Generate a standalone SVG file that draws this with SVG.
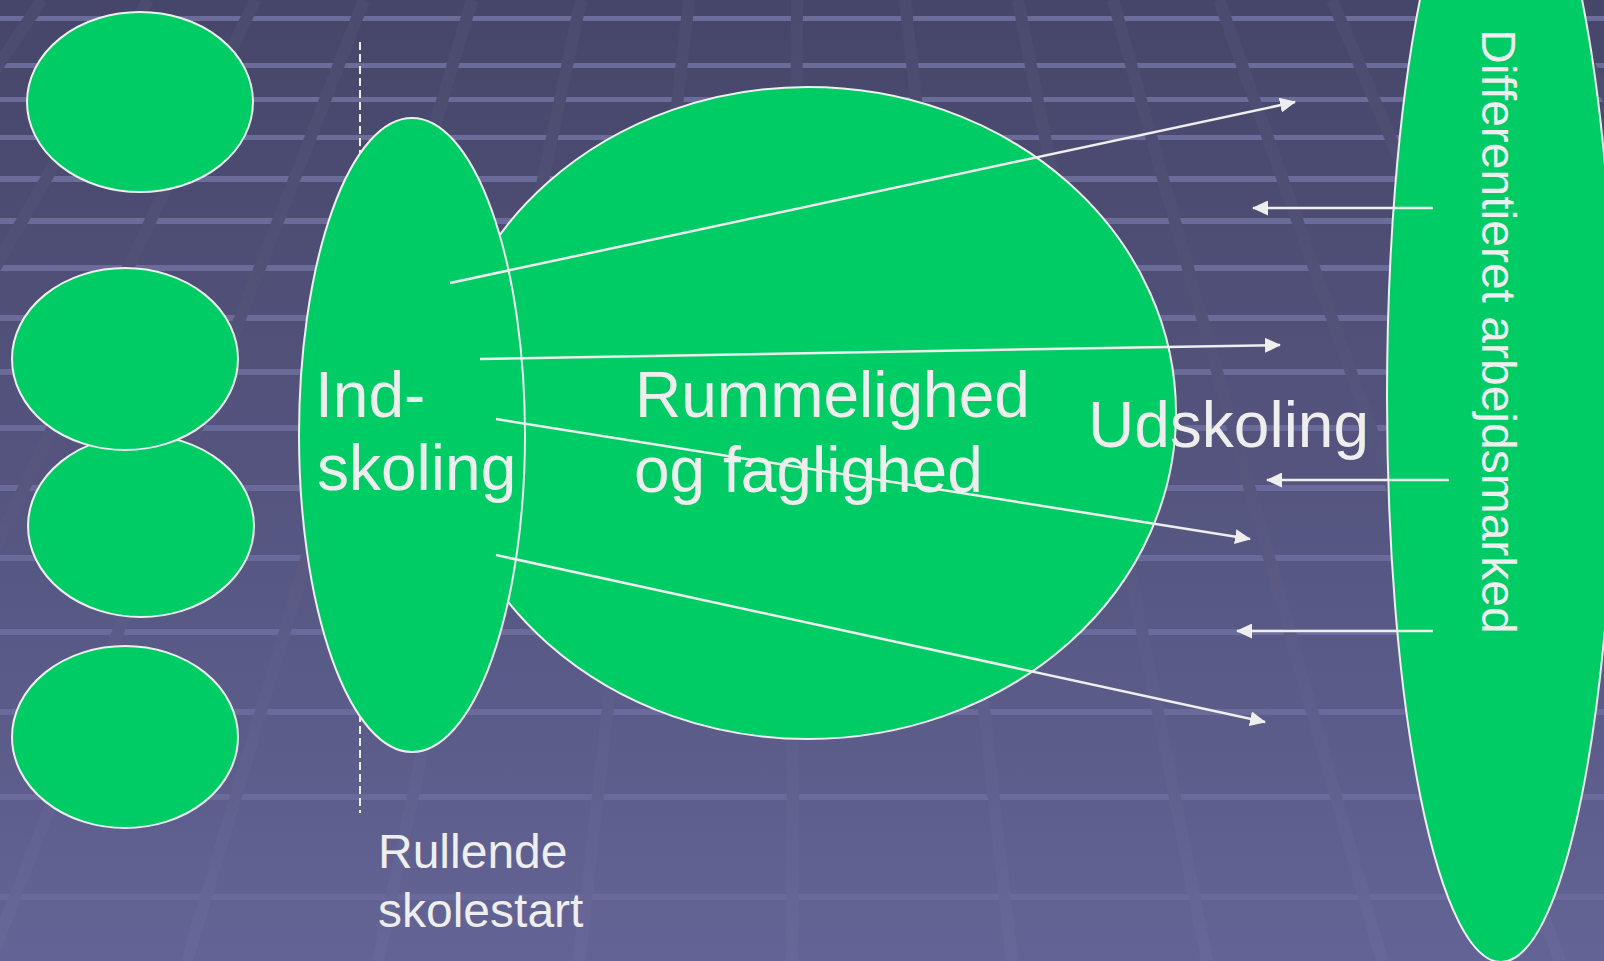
<svg xmlns="http://www.w3.org/2000/svg" width="1604" height="961" viewBox="0 0 1604 961">
<defs>
<linearGradient id="bg" x1="0" y1="0" x2="0" y2="961" gradientUnits="userSpaceOnUse"><stop offset="0" stop-color="#46466a"/><stop offset="1" stop-color="#636395"/></linearGradient>
<linearGradient id="ln" x1="0" y1="0" x2="0" y2="961" gradientUnits="userSpaceOnUse"><stop offset="0" stop-color="#4b4b6f"/><stop offset="0.5" stop-color="#56567f"/><stop offset="1" stop-color="#676799"/></linearGradient>
<linearGradient id="st" x1="0" y1="0" x2="0" y2="961" gradientUnits="userSpaceOnUse"><stop offset="0" stop-color="#6c6c9a"/><stop offset="1" stop-color="#69699b"/></linearGradient>
<marker id="ah" viewBox="0 0 16 15" markerWidth="16" markerHeight="15" refX="15" refY="7.5" orient="auto" markerUnits="userSpaceOnUse"><path d="M0,0 L16,7.5 L0,15 z" fill="#eeeeee"/></marker>
</defs>
<style>
.node{fill:#00cc66;stroke:#eeeeee;stroke-width:2}
.lbl{font-family:"Liberation Sans",Arial,sans-serif;fill:#eeeeee}
.conn{stroke:#eeeeee;stroke-width:2.5;fill:none;marker-end:url(#ah)}
.stripe{fill:url(#st)}
.grid{stroke:url(#ln);stroke-width:12;fill:none}
</style>
<g id="background">
<rect x="0" y="0" width="1604" height="961" fill="url(#bg)"/>
<g>
<rect class="stripe" x="0" y="16" width="1604" height="5"/>
<rect class="stripe" x="0" y="63" width="1604" height="5"/>
<rect class="stripe" x="0" y="97" width="1604" height="5"/>
<rect class="stripe" x="0" y="135" width="1604" height="5"/>
<rect class="stripe" x="0" y="176" width="1604" height="6"/>
<rect class="stripe" x="0" y="218" width="1604" height="6"/>
<rect class="stripe" x="0" y="265" width="1604" height="6"/>
<rect class="stripe" x="0" y="315" width="1604" height="6"/>
<rect class="stripe" x="0" y="369" width="1604" height="6"/>
<rect class="stripe" x="0" y="425" width="1604" height="6"/>
<rect class="stripe" x="0" y="485" width="1604" height="6"/>
<rect class="stripe" x="0" y="555" width="1604" height="6"/>
<rect class="stripe" x="0" y="629" width="1604" height="6"/>
<rect class="stripe" x="0" y="709" width="1604" height="6"/>
<rect class="stripe" x="0" y="794" width="1604" height="6"/>
<rect class="stripe" x="0" y="894" width="1604" height="6"/>
</g>
<g class="grid">
<line x1="42" y1="0" x2="-600" y2="961"/>
<line x1="148" y1="0" x2="-400" y2="961"/>
<line x1="255" y1="0" x2="-200" y2="961"/>
<line x1="364" y1="0" x2="-10" y2="961"/>
<line x1="472" y1="0" x2="187" y2="961"/>
<line x1="581" y1="0" x2="378" y2="961"/>
<line x1="689" y1="0" x2="579" y2="961"/>
<line x1="797" y1="0" x2="792" y2="961"/>
<line x1="905" y1="0" x2="1012" y2="961"/>
<line x1="1018" y1="0" x2="1207" y2="961"/>
<line x1="1113" y1="0" x2="1382" y2="961"/>
<line x1="1219" y1="0" x2="1560" y2="961"/>
<line x1="1332" y1="0" x2="1740" y2="961"/>
<line x1="1443" y1="0" x2="1920" y2="961"/>
<line x1="1552" y1="0" x2="2100" y2="961"/>
</g>
</g>
<line x1="360" y1="42" x2="360" y2="813" stroke="#eeeeee" stroke-width="2" stroke-dasharray="8 4"/>
<g id="e1"><ellipse class="node" cx="140" cy="102" rx="113" ry="90"/></g>
<g id="e3"><ellipse class="node" cx="141" cy="526" rx="113" ry="91"/></g>
<g id="e2"><ellipse class="node" cx="125" cy="359" rx="113" ry="91"/></g>
<g id="e4"><ellipse class="node" cx="125" cy="737" rx="113" ry="91"/></g>
<g id="rummelighed">
<ellipse class="node" cx="808" cy="413" rx="368" ry="326"/>
<text class="lbl" font-size="64"><tspan x="635" y="417">Rummelighed</tspan><tspan x="634" y="492">og faglighed</tspan></text>
</g>
<g id="indskoling">
<ellipse class="node" cx="412" cy="435" rx="113" ry="317"/>
<text class="lbl" font-size="64"><tspan x="315" y="417">Ind-</tspan><tspan x="317" y="490">skoling</tspan></text>
</g>
<g id="udskoling"><text class="lbl" font-size="64" x="1088" y="447">Udskoling</text></g>
<g id="arbejdsmarked">
<ellipse class="node" cx="1501" cy="397" rx="114" ry="565"/>
<text class="lbl" font-size="48" transform="translate(1482,29) rotate(90)">Differentieret arbejdsmarked</text>
</g>
<g id="rullende"><text class="lbl" font-size="48"><tspan x="378" y="868">Rullende</tspan><tspan x="378" y="927">skolestart</tspan></text></g>
<g id="connectors">
<line class="conn" x1="450" y1="283" x2="1295" y2="102"/>
<line class="conn" x1="480" y1="359" x2="1280" y2="345"/>
<line class="conn" x1="496" y1="419" x2="1250" y2="539"/>
<line class="conn" x1="496" y1="555" x2="1265" y2="722"/>
<line class="conn" x1="1433" y1="208" x2="1253" y2="208"/>
<line class="conn" x1="1449" y1="480" x2="1267" y2="480"/>
<line class="conn" x1="1433" y1="631" x2="1237" y2="631"/>
</g>
</svg>
